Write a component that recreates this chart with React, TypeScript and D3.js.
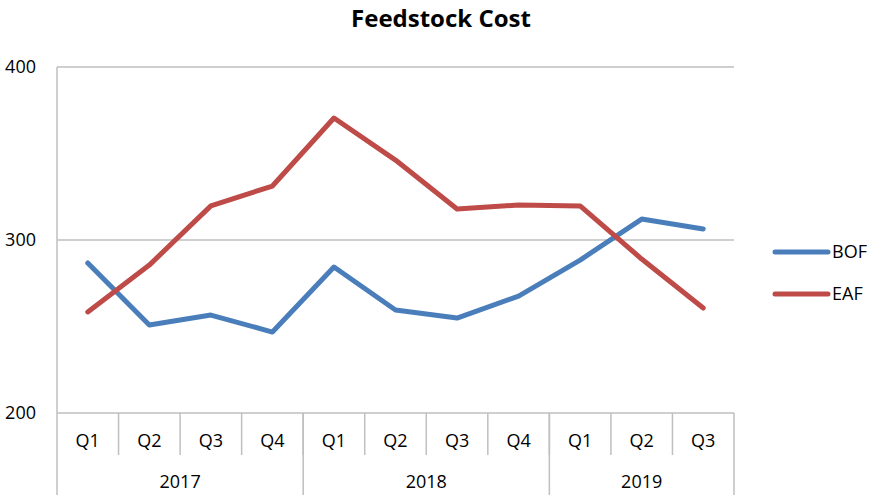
import React, { useEffect, useRef } from 'react'
import * as d3 from 'd3'

const quarters = ['Q1', 'Q2', 'Q3', 'Q4', 'Q1', 'Q2', 'Q3', 'Q4', 'Q1', 'Q2', 'Q3']
const years = [
  { label: '2017', count: 4 },
  { label: '2018', count: 4 },
  { label: '2019', count: 3 },
]
const bof = [286.7, 250.9, 256.6, 246.8, 284.4, 259.5, 254.9, 267.6, 288.4, 312.1, 306.4]
const eaf = [258.4, 285.5, 319.7, 331.2, 370.5, 346.2, 317.9, 320.2, 319.7, 289, 260.7]
const yTicks = [200, 300, 400]

const series = [
  { name: 'BOF', values: bof, color: '#4A7EBB' },
  { name: 'EAF', values: eaf, color: '#BE4B48' },
]

const W = 870
const H = 495
const left = 57
const right = 734
const top = 67
const bottom = 413
const font = '"Open Sans", "Noto Sans", sans-serif'
const grid = '#BFBFBF'

const App = () => {
  const svg = useRef<SVGSVGElement>(null)

  useEffect(() => {
    const s = d3.select(svg.current)
    s.selectAll('*').remove()

    const x = d3
      .scaleBand()
      .domain(quarters.map((_, i) => String(i)))
      .range([left, right])
    const y = d3.scaleLinear().domain([200, 400]).range([bottom, top])

    // title
    s.append('text')
      .attr('x', 441)
      .attr('y', 27)
      .attr('text-anchor', 'middle')
      .style('font-family', font)
      .style('font-weight', 'bold')
      .style('font-size', '24px')
      .text('Feedstock Cost')

    // gridlines
    s.selectAll('.grid')
      .data(yTicks.filter(t => t > 200))
      .enter()
      .append('line')
      .attr('x1', left)
      .attr('x2', right)
      .attr('y1', d => y(d))
      .attr('y2', d => y(d))
      .attr('stroke', grid)
      .attr('stroke-width', 1.5)

    s.selectAll('.ylab')
      .data(yTicks)
      .enter()
      .append('text')
      .attr('x', 36)
      .attr('y', d => y(d) + 6)
      .attr('text-anchor', 'end')
      .style('font-family', font)
      .style('font-size', '18px')
      .text(d => d)

    // y axis line
    s.append('line')
      .attr('x1', left)
      .attr('x2', left)
      .attr('y1', top)
      .attr('y2', H)
      .attr('stroke', grid)
      .attr('stroke-width', 1.5)

    // bottom axis
    s.append('line')
      .attr('x1', left)
      .attr('x2', right)
      .attr('y1', bottom)
      .attr('y2', bottom)
      .attr('stroke', grid)
      .attr('stroke-width', 1.5)

    // quarter dividers
    s.selectAll('.qdiv')
      .data(quarters.map((_, i) => i).slice(1))
      .enter()
      .append('line')
      .attr('x1', i => x(String(i)))
      .attr('x2', i => x(String(i)))
      .attr('y1', bottom)
      .attr('y2', 455)
      .attr('stroke', grid)
      .attr('stroke-width', 1.5)

    s.selectAll('.qlab')
      .data(quarters)
      .enter()
      .append('text')
      .attr('x', (_, i) => x(String(i)) + x.bandwidth() / 2)
      .attr('y', 447)
      .attr('text-anchor', 'middle')
      .style('font-family', font)
      .style('font-size', '18px')
      .text(d => d)

    // year groups
    let start = 0
    const groups = years.map(yr => {
      const g = { label: yr.label, start, end: start + yr.count }
      start += yr.count
      return g
    })
    const edge = (i: number) => (i >= quarters.length ? right : x(String(i)))

    s.selectAll('.ydiv')
      .data(groups.map(g => g.end))
      .enter()
      .append('line')
      .attr('x1', i => edge(i))
      .attr('x2', i => edge(i))
      .attr('y1', bottom)
      .attr('y2', H)
      .attr('stroke', grid)
      .attr('stroke-width', 1.5)

    s.selectAll('.ylabel')
      .data(groups)
      .enter()
      .append('text')
      .attr('x', g => (edge(g.start) + edge(g.end)) / 2)
      .attr('y', 488)
      .attr('text-anchor', 'middle')
      .style('font-family', font)
      .style('font-size', '18px')
      .text(g => g.label)

    // lines
    const line = d3
      .line<number>()
      .x((_, i) => x(String(i)) + x.bandwidth() / 2)
      .y(d => y(d))

    series.forEach(sr => {
      s.append('path')
        .datum(sr.values)
        .attr('d', line)
        .attr('fill', 'none')
        .attr('stroke', sr.color)
        .attr('stroke-width', 5)
        .attr('stroke-linejoin', 'round')
        .attr('stroke-linecap', 'round')
    })

    // legend
    series.forEach((sr, i) => {
      const ly = 252 + i * 42
      s.append('line')
        .attr('x1', 775)
        .attr('x2', 828)
        .attr('y1', ly)
        .attr('y2', ly)
        .attr('stroke', sr.color)
        .attr('stroke-width', 5)
        .attr('stroke-linecap', 'round')
      s.append('text')
        .attr('x', 832)
        .attr('y', ly + 6)
        .style('font-family', font)
        .style('font-size', '18px')
        .text(sr.name)
    })
  }, [])

  return (
    <svg
      ref={svg}
      width={W}
      height={H}
      style={{ position: 'absolute', left: 0, top: 0, background: '#fff' }}
    ></svg>
  )
}

export default App
